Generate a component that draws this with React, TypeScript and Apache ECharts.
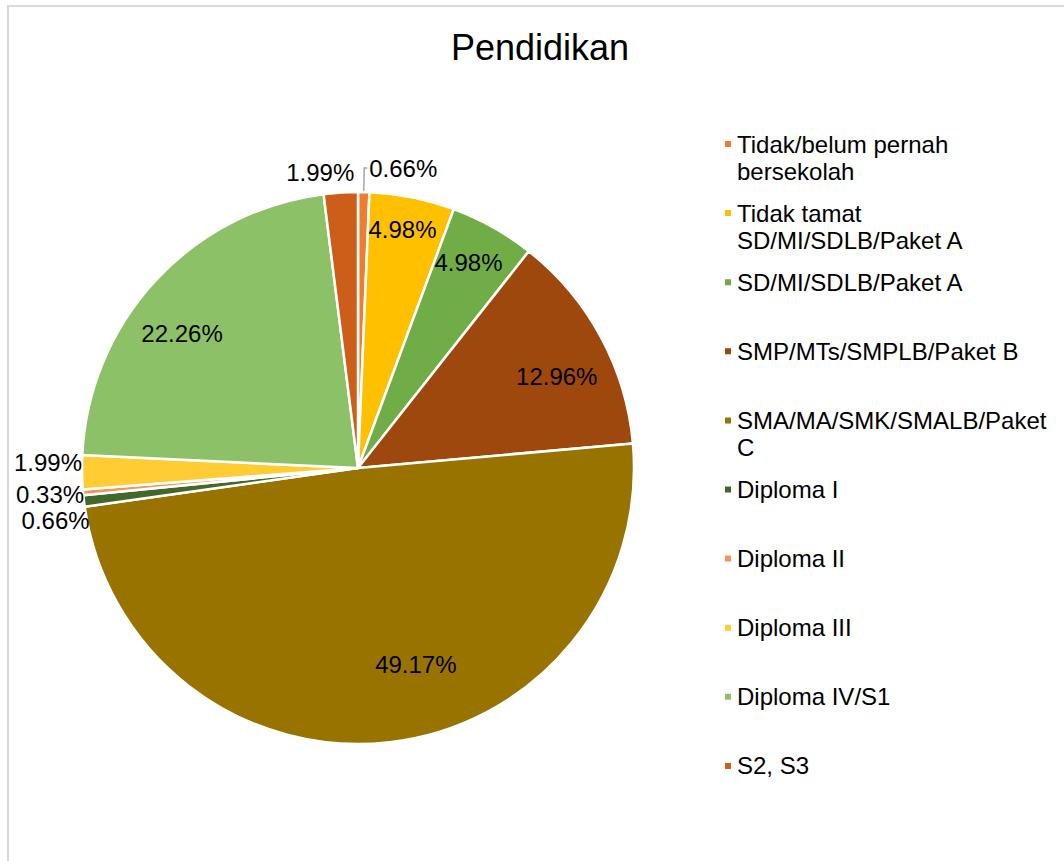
import React, { useEffect, useRef } from "react";
import * as echarts from "echarts";

const chartTitle = "Pendidikan";

const categories = [
  "Tidak/belum pernah bersekolah",
  "Tidak tamat SD/MI/SDLB/Paket A",
  "SD/MI/SDLB/Paket A",
  "SMP/MTs/SMPLB/Paket B",
  "SMA/MA/SMK/SMALB/Paket C",
  "Diploma I",
  "Diploma II",
  "Diploma III",
  "Diploma IV/S1",
  "S2, S3",
];

const percents = [0.66, 4.98, 4.98, 12.96, 49.17, 0.66, 0.33, 1.99, 22.26, 1.99];

const legendLabels = [
  "Tidak/belum pernah\nbersekolah",
  "Tidak tamat\nSD/MI/SDLB/Paket A",
  "SD/MI/SDLB/Paket A",
  "SMP/MTs/SMPLB/Paket B",
  "SMA/MA/SMK/SMALB/Paket\nC",
  "Diploma I",
  "Diploma II",
  "Diploma III",
  "Diploma IV/S1",
  "S2, S3",
];

const sliceColors = [
  "#ED7D31",
  "#FFC000",
  "#70AD47",
  "#9E480E",
  "#997300",
  "#43682B",
  "#F1975A",
  "#FFCD33",
  "#8CC168",
  "#CD5E1A",
];

// labels placed above the pie top, and those with a visible leader line
const topLabelNames = ["Tidak/belum pernah bersekolah", "S2, S3"];
const leaderLineNames = ["Tidak/belum pernah bersekolah"];

const FONT = "'Liberation Sans', Arial, Helvetica, sans-serif";
const CENTER = [358, 468];
const RADIUS = 276;
const LEGEND_Y0 = 144;
const LEGEND_STEP = 69.1;
const LEGEND_LH = 27;

// small label nudges (layout only) to mimic the spreadsheet's best-fit placement
const outerNudge: Record<string, [number, number]> = {
  "Diploma I": [0, -12],
  "Diploma II": [0, -8],
  "Diploma III": [0, -10],
  "S2, S3": [20, 4],
};
const innerNudge: Record<string, [number, number]> = {
  "Tidak tamat SD/MI/SDLB/Paket A": [0, -17],
  "SD/MI/SDLB/Paket A": [0, -8],
  "SMP/MTs/SMPLB/Paket B": [0, 16],
  "SMA/MA/SMK/SMALB/Paket C": [32, -28],
  "Diploma IV/S1": [-10, 19],
};

const fmt = (p: any) => Number(p.value).toFixed(2) + "%";

function nudger(map: Record<string, [number, number]>) {
  return (params: any) => {
    const n = map[categories[params.dataIndex]];
    return n ? { dx: n[0], dy: n[1] } : {};
  };
}

function buildOption() {
  const outerData = categories.map((name, i) => {
    const small = percents[i] < 3;
    const top = topLabelNames.includes(name);
    return {
      name,
      value: percents[i],
      itemStyle: { color: sliceColors[i] },
      label: { show: small },
      labelLine: {
        show: leaderLineNames.includes(name),
        length: top ? 24 : 0,
        length2: top ? 3 : 0,
      },
    };
  });

  const innerLabelData = categories.map((name, i) => ({
    name,
    value: percents[i],
    label: { show: percents[i] >= 3 },
  }));

  const legends = categories.map((name, i) => {
    const text = legendLabels[i];
    const multi = text.includes("\n");
    const lines = multi ? 3 : 1;
    return {
      data: [name],
      orient: "vertical",
      left: 723,
      top: LEGEND_Y0 + i * LEGEND_STEP - (lines * LEGEND_LH) / 2,
      padding: 0,
      icon: "rect",
      itemWidth: 8,
      itemHeight: 8,
      selectedMode: false,
      formatter: () => (multi ? "\n" + text : text),
      textStyle: {
        fontSize: 24,
        lineHeight: LEGEND_LH,
        color: "#000",
        fontFamily: FONT,
      },
    };
  });

  return {
    animation: false,
    backgroundColor: "#fff",
    title: {
      text: chartTitle,
      left: 540,
      top: 25,
      padding: 0,
      textAlign: "center",
      textStyle: {
        fontSize: 36,
        fontWeight: "normal",
        color: "#000",
        fontFamily: FONT,
        lineHeight: 44,
      },
    },
    legend: legends,
    graphic: [
      {
        type: "rect",
        silent: true,
        shape: { x: 8, y: 6, width: 1100, height: 900 },
        style: { fill: "none", stroke: "#D9D9D9", lineWidth: 2 },
      },
    ],
    series: [
      {
        type: "pie",
        center: CENTER,
        radius: RADIUS,
        startAngle: 90,
        clockwise: true,
        avoidLabelOverlap: true,
        emphasis: { disabled: true },
        itemStyle: { borderColor: "#fff", borderWidth: 2.5 },
        label: {
          position: "outside",
          formatter: fmt,
          fontSize: 24,
          lineHeight: 28,
          color: "#000",
          fontFamily: FONT,
          distanceToLabelLine: 2,
        },
        labelLine: {
          lineStyle: { color: "#A6A6A6", width: 1.5 },
        },
        labelLayout: nudger(outerNudge),
        data: outerData,
      },
      {
        type: "pie",
        center: CENTER,
        radius: [170, RADIUS],
        startAngle: 90,
        clockwise: true,
        silent: true,
        emphasis: { disabled: true },
        itemStyle: { color: "rgba(0,0,0,0)", borderWidth: 0 },
        label: {
          position: "inside",
          formatter: fmt,
          fontSize: 24,
          color: "#000",
          fontFamily: FONT,
        },
        labelLine: { show: false },
        labelLayout: nudger(innerNudge),
        data: innerLabelData,
      },
    ],
  };
}

export default function App() {
  const ref = useRef<HTMLDivElement>(null);
  useEffect(() => {
    if (!ref.current) return;
    const chart = echarts.init(ref.current, undefined, { renderer: "svg" });
    chart.setOption(buildOption() as any);
    return () => chart.dispose();
  }, []);
  return (
    <div
      ref={ref}
      style={{ position: "absolute", left: 0, top: 0, width: 1064, height: 861 }}
    />
  );
}
